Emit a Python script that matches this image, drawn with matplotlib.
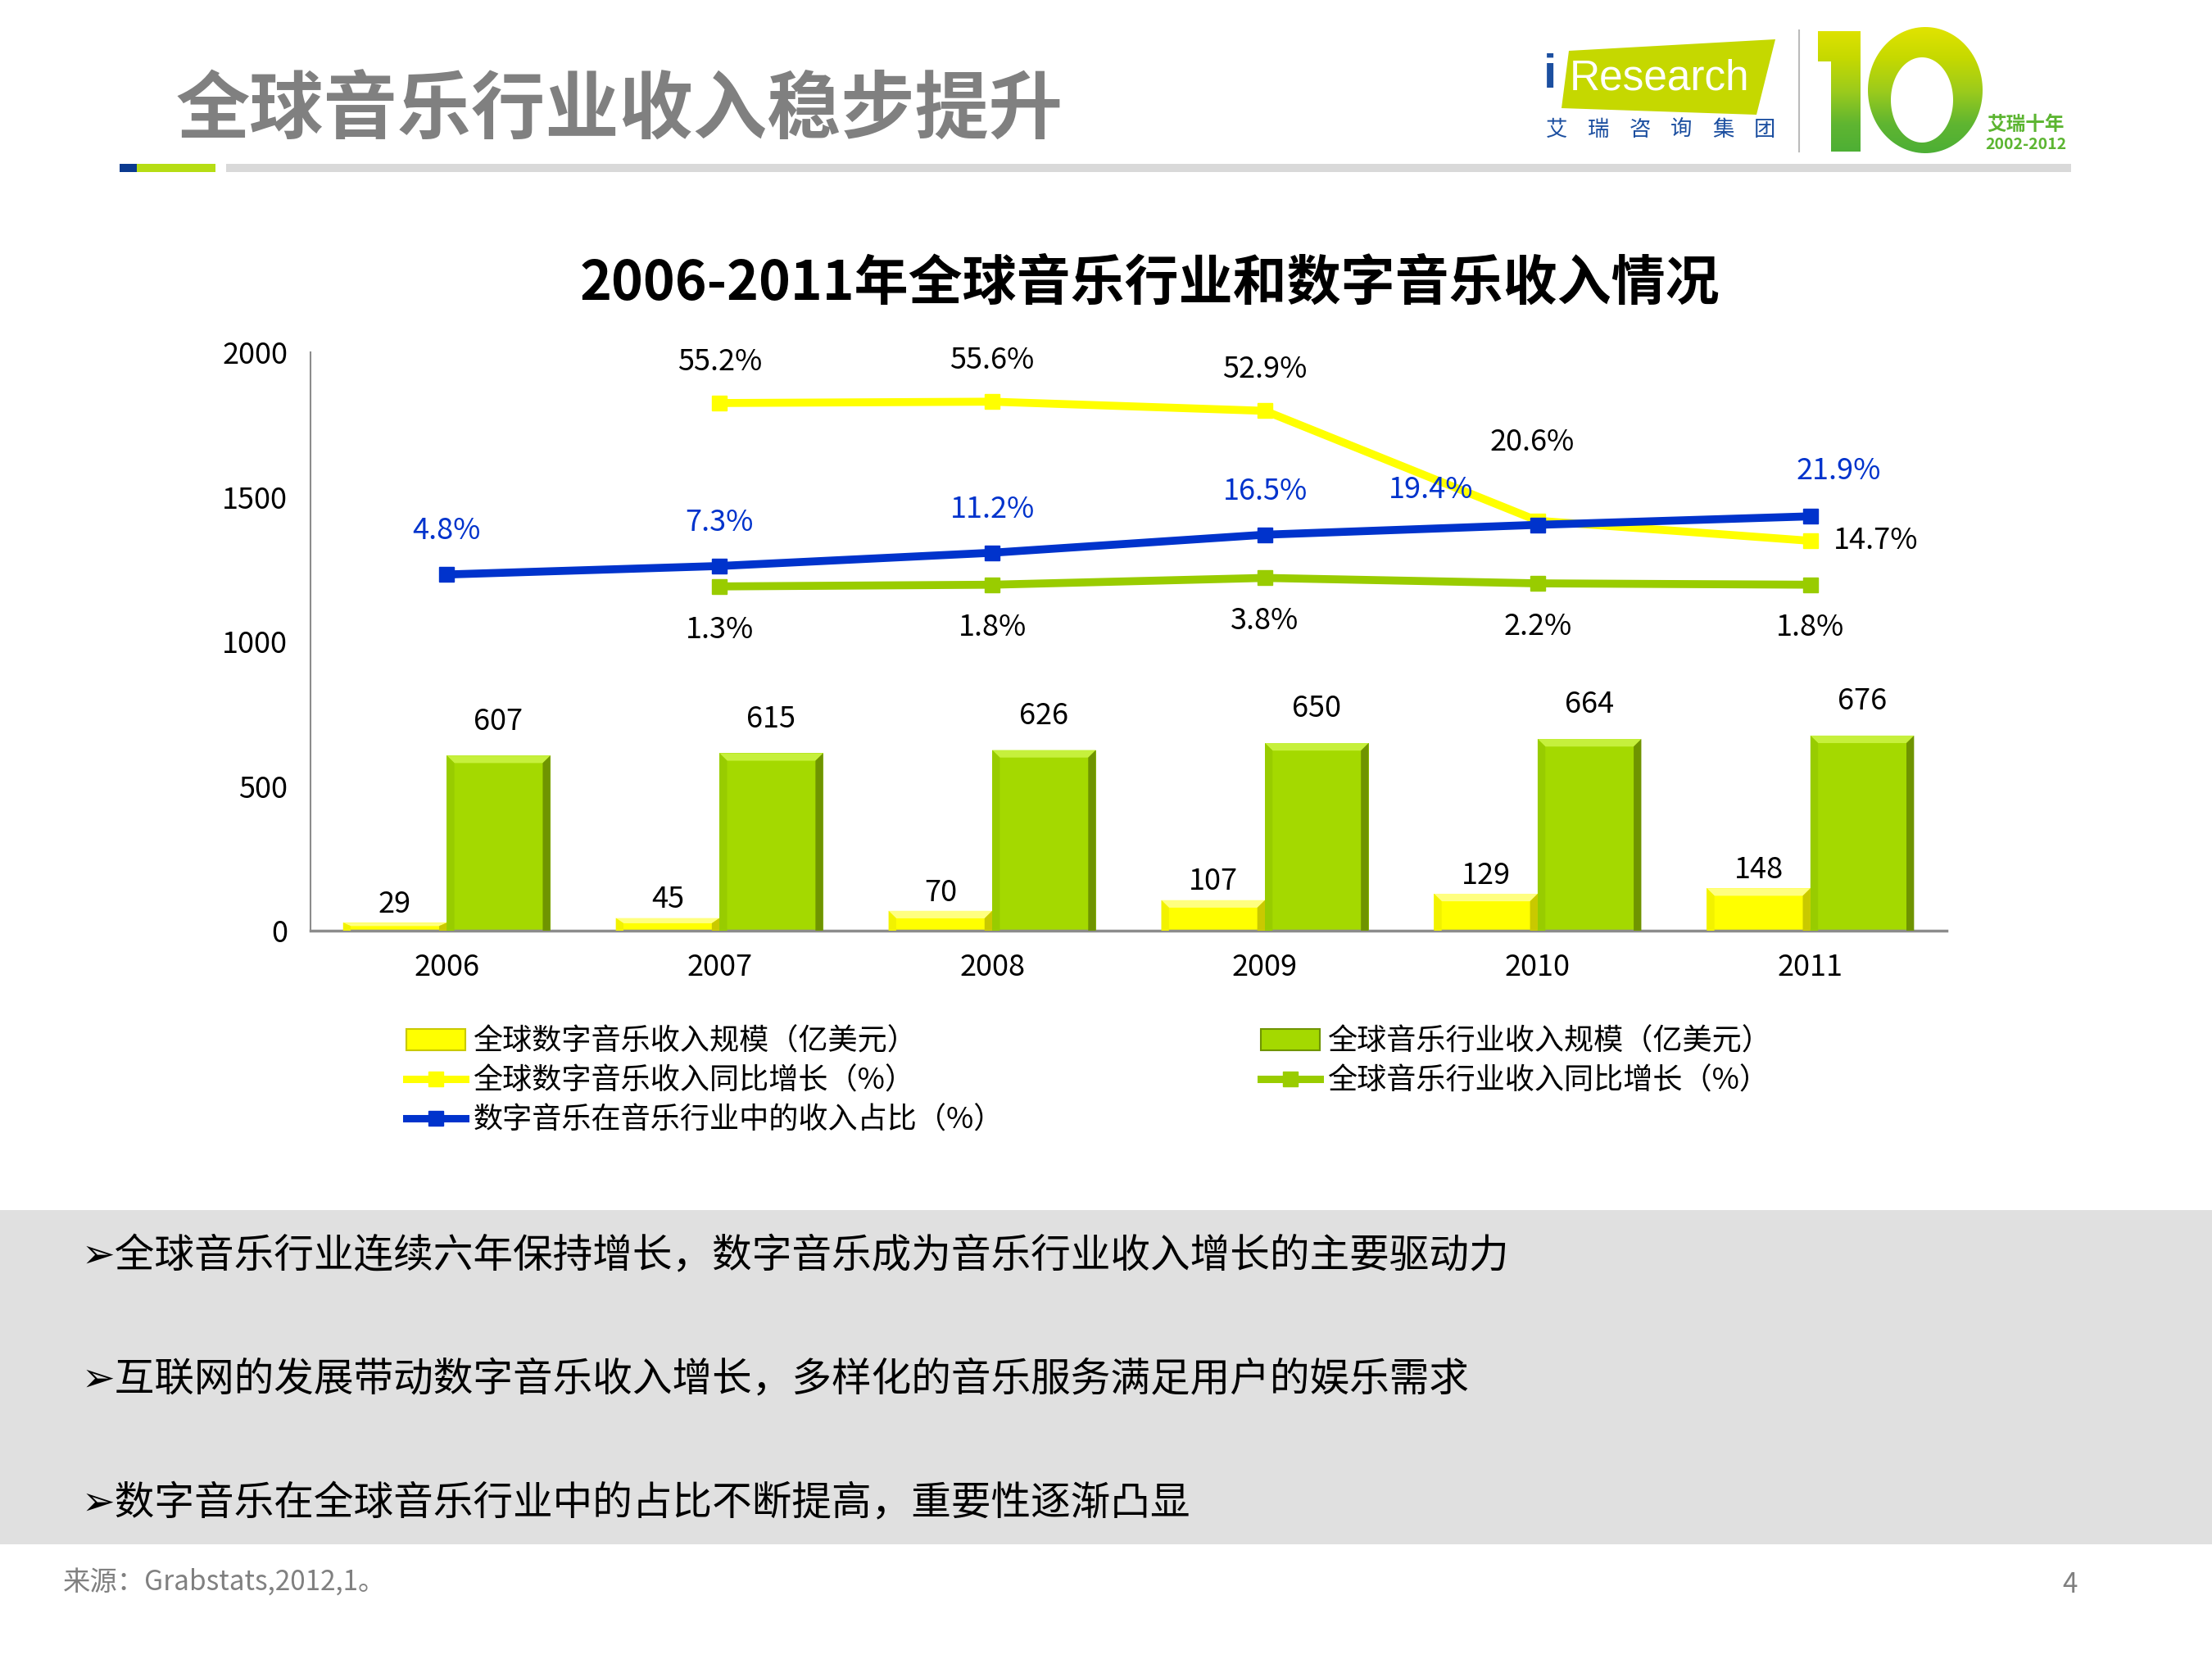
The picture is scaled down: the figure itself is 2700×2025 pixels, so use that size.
import numpy as np
import matplotlib
matplotlib.use('Agg')
import matplotlib.pyplot as plt
from matplotlib.patches import Rectangle, Polygon, PathPatch
from matplotlib.path import Path
from matplotlib.lines import Line2D
from matplotlib.colors import LinearSegmentedColormap

plt.rcParams['font.family'] = ['Noto Sans CJK SC', 'DejaVu Sans']

# ---- data ----
years = ['2006', '2007', '2008', '2009', '2010', '2011']
digital_rev = [29, 45, 70, 107, 129, 148]          # 全球数字音乐收入规模（亿美元）
total_rev = [607, 615, 626, 650, 664, 676]         # 全球音乐行业收入规模（亿美元）
digital_growth = [np.nan, 55.2, 55.6, 52.9, 20.6, 14.7]
total_growth = [np.nan, 1.3, 1.8, 3.8, 2.2, 1.8]
digital_share = [4.8, 7.3, 11.2, 16.5, 19.4, 21.9]

legend_labels = ['全球数字音乐收入规模（亿美元）', '全球数字音乐收入同比增长（%）',
                 '数字音乐在音乐行业中的收入占比（%）', '全球音乐行业收入规模（亿美元）',
                 '全球音乐行业收入同比增长（%）']
bullets = ['➢全球音乐行业连续六年保持增长，数字音乐成为音乐行业收入增长的主要驱动力',
           '➢互联网的发展带动数字音乐收入增长，多样化的音乐服务满足用户的娱乐需求',
           '➢数字音乐在全球音乐行业中的占比不断提高，重要性逐渐凸显']

YELLOW = '#ffff00'
GREEN_BAR = '#a4d900'
GREEN_LINE = '#99cc00'
BLUE = '#0033cc'
GRAY = '#808080'

W, H = 2700, 2025
fig = plt.figure(figsize=(27, 20.25), dpi=100)

# background axes in pixel units (y downward) for slide decoration
bg = fig.add_axes([0, 0, 1, 1])
bg.set_xlim(0, W)
bg.set_ylim(H, 0)
bg.axis('off')
bg.set_zorder(0)

bg.add_patch(Rectangle((0, 1477), W, 408, color='#e0e0e0', lw=0))

# header
bg.text(215, 136, '全球音乐行业收入稳步提升', fontsize=65, fontweight='bold',
        color=GRAY, va='center', ha='left')
bg.add_patch(Rectangle((146, 200), 21, 10, color='#0b3a8f', lw=0))
bg.add_patch(Rectangle((167, 200), 96, 10, color='#b6dd14', lw=0))
bg.add_patch(Rectangle((276, 200), 2252, 10, color='#d9d9d9', lw=0))

# logo: iResearch
bg.add_patch(Polygon([(1915, 62), (2167, 48), (2144, 140), (1906, 132)],
                     closed=True, color='#c5d800', lw=0))
bg.text(1884, 92, 'i', fontsize=42, fontweight='bold', color='#1c4fa0',
        family='Liberation Sans', va='center', ha='left')
bg.text(1916, 96, 'Research', fontsize=37, color='white',
        family='Liberation Sans', va='center', ha='left')
for k, ch in enumerate('艾瑞咨询集团'):
    bg.text(1900 + k * 50.8, 158, ch, fontsize=19, color='#1c4fa0',
            va='center', ha='center')
bg.plot([2196, 2196], [37, 185], color='#bbbbbb', lw=1.5)

# logo: big "10" with gradient
grad = LinearSegmentedColormap.from_list(
    'g10', ['#e3e400', '#c6d900', '#9ccb1c', '#5fb531', '#4aae36'])
one = Polygon([(2219, 38), (2271, 38), (2271, 185), (2235, 185), (2235, 75), (2219, 75)],
              closed=True, transform=bg.transData, lw=0, fc='none')
t = np.linspace(0, 2 * np.pi, 120)
outer = np.column_stack([2350 + 70 * np.cos(t), 110 + 77 * np.sin(t)])
inner = np.column_stack([2346 + 38 * np.cos(t), 122 + 52 * np.sin(t)])[::-1]
verts = np.vstack([outer, inner])
codes = ([Path.MOVETO] + [Path.LINETO] * (len(outer) - 1)
         + [Path.MOVETO] + [Path.LINETO] * (len(inner) - 1))
ring = PathPatch(Path(verts, codes), transform=bg.transData, lw=0, fc='none')
for shape in (one, ring):
    bg.add_patch(shape)
    im = bg.imshow(np.linspace(0, 1, 256).reshape(-1, 1), cmap=grad, aspect='auto',
                   extent=(2210, 2430, 192, 30), interpolation='bilinear')
    im.set_clip_path(shape)
bg.set_xlim(0, W)
bg.set_ylim(H, 0)
bg.text(2473, 152, '艾瑞十年', fontsize=17, fontweight='bold', color='#5cb531',
        va='center', ha='center')
bg.text(2473, 176, '2002-2012', fontsize=14, fontweight='bold', color='#5cb531',
        va='center', ha='center')

# chart title
bg.text(1403, 346, '2006-2011年全球音乐行业和数字音乐收入情况', fontsize=47.5,
        fontweight='bold', color='black', va='center', ha='center')

# bullets, footer, page number
for k, line in enumerate(bullets):
    bg.text(100, 1534 + k * 151, line, fontsize=35, color='black', va='center', ha='left')
bg.text(77, 1932, '来源：Grabstats,2012,1。', fontsize=24, color=GRAY, va='center', ha='left')
bg.text(2527, 1934, '4', fontsize=24, color=GRAY, va='center', ha='center')

# ---- main chart ----
ax = fig.add_axes([220 / 1568, 1 - 660 / 1176, 1160 / 1568, 410 / 1176])
ax.set_zorder(2)
ax.patch.set_alpha(0)
x = np.arange(len(years))
bw = 0.38

bars_d = ax.bar(x - bw / 2, digital_rev, width=bw, color=YELLOW, lw=0, zorder=2)
bars_t = ax.bar(x + bw / 2, total_rev, width=bw, color=GREEN_BAR, lw=0, zorder=2)


def bevel(patch, light, side, dark, dx=0.028, dy=26):
    x0 = patch.get_x()
    x1 = x0 + patch.get_width()
    h = patch.get_height()
    d = min(dy, h * 0.4)
    ax.add_patch(Polygon([(x0, h), (x1, h), (x1 - dx, h - d), (x0 + dx, h - d)],
                         closed=True, color=light, lw=0, zorder=3))
    ax.add_patch(Polygon([(x0, h), (x0 + dx, h - d), (x0 + dx, 0), (x0, 0)],
                         closed=True, color=side, lw=0, zorder=3))
    ax.add_patch(Polygon([(x1, h), (x1 - dx, h - d), (x1 - dx, 0), (x1, 0)],
                         closed=True, color=dark, lw=0, zorder=3))


for p in bars_d:
    bevel(p, '#ffff80', '#f2f200', '#c9c900')
for p in bars_t:
    bevel(p, '#c6f03c', '#98cc00', '#6f9400')

for xi, v in zip(x, digital_rev):
    ax.annotate(str(v), (xi - bw / 2, v), xytext=(0, 16), textcoords='offset points',
                ha='center', va='center', fontsize=26)
for xi, v in zip(x, total_rev):
    ax.annotate(str(v), (xi + bw / 2, v), xytext=(0, 30), textcoords='offset points',
                ha='center', va='center', fontsize=26)

ax.set_xlim(-0.5, len(years) - 0.5)
ax.set_ylim(0, 2000)
ax.set_yticks([0, 500, 1000, 1500, 2000])
ax.set_xticks(x)
ax.set_xticklabels(years)
ax.tick_params(axis='both', length=0, labelsize=26)
ax.tick_params(axis='y', pad=20)
ax.tick_params(axis='x', pad=19)
for s in ['top', 'right']:
    ax.spines[s].set_visible(False)
ax.spines['left'].set_color('#8c8c8c')
ax.spines['left'].set_linewidth(1.5)
ax.spines['bottom'].set_color('#8c8c8c')
ax.spines['bottom'].set_linewidth(2.5)

# growth / share lines on a hidden secondary scale
ax2 = ax.twinx()
ax2.set_ylim(-100, 70)
ax2.axis('off')
ax2.plot(x, total_growth, color=GREEN_LINE, lw=7, marker='s', ms=13, zorder=2)
ax2.plot(x, digital_growth, color=YELLOW, lw=7, marker='s', ms=13, zorder=3)
ax2.plot(x, digital_share, color=BLUE, lw=7, marker='s', ms=13, zorder=4)

dg_off = [None, (0, 36), (0, 36), (0, 36), (-5, 69), (20, 0)]
for xi, v, off in zip(x, digital_growth, dg_off):
    if off is None:
        continue
    ax2.annotate(f'{v:.1f}%', (xi, v), xytext=off, textcoords='offset points',
                 ha='left' if off[0] > 10 else 'center', va='center', fontsize=26)
sh_off = [(0, 38), (0, 38), (0, 38), (0, 38), (-94, 31), (25, 40)]
for xi, v, off in zip(x, digital_share, sh_off):
    ax2.annotate(f'{v:.1f}%', (xi, v), xytext=off, textcoords='offset points',
                 ha='center', va='center', fontsize=26, color=BLUE)
for xi, v in zip(x, total_growth):
    if np.isnan(v):
        continue
    ax2.annotate(f'{v:.1f}%', (xi, v), xytext=(0, -38), textcoords='offset points',
                 ha='center', va='center', fontsize=26)

# legend
handles = [
    Rectangle((0, 0), 1, 1, fc=YELLOW, ec='#c9c900', lw=1.5),
    Line2D([], [], color=YELLOW, lw=6.5, marker='s', ms=13),
    Line2D([], [], color=BLUE, lw=6.5, marker='s', ms=13),
    Rectangle((0, 0), 1, 1, fc=GREEN_BAR, ec='#6f9400', lw=1.5),
    Line2D([], [], color=GREEN_LINE, lw=6.5, marker='s', ms=13),
]
fig.legend(handles, legend_labels, ncol=2, loc='upper left',
           bbox_to_anchor=(288 / 1568, 1 - 728 / 1176), frameon=False,
           fontsize=26, handlelength=2.0, handletextpad=0.25, columnspacing=8.7,
           labelspacing=0.33, borderpad=0, borderaxespad=0, numpoints=1)

fig.savefig('out.png', dpi=100)
